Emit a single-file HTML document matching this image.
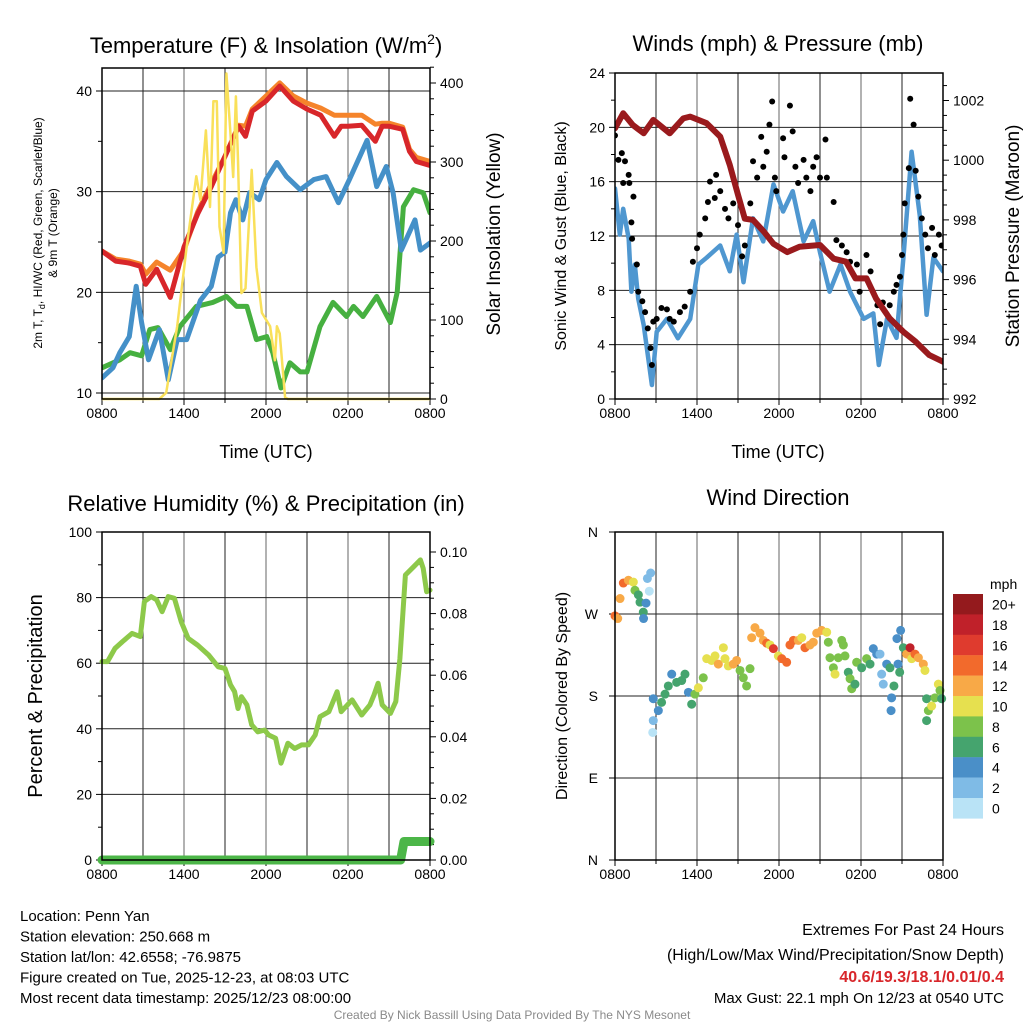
<!DOCTYPE html>
<html><head><meta charset="utf-8"><style>
html,body{margin:0;padding:0;background:#fff}
svg{display:block}
text{font-family:"Liberation Sans",sans-serif}
</style></head><body>
<svg id="s" width="1024" height="1024" viewBox="0 0 1024 1024" xmlns="http://www.w3.org/2000/svg"></svg>
<script>
// ---------- DATA ----------
const xTickLabels=["0800","1400","2000","0200","0800"];
// Panel 1
const tempTimes=[0,1,2,2.8,3.2,4,5,6,7,8,9,10,10.5,11,12,13,14,15,16,17,17.5,18,19,20,20.5,21,22,22.5,23,24];
const tempRed=[24.1,23.1,22.9,22.6,20.8,22.3,19.5,24.5,27.8,30.5,33.5,36.5,35.5,38.0,39.0,40.5,39.0,38.2,37.6,35.5,36.5,36.5,36.6,35.0,36.5,36.5,36.2,34.0,33.0,32.6];
const tempOrange=[24.1,23.3,23.1,22.8,21.8,23.0,22.2,24.2,28.0,30.8,33.5,36.6,36.5,38.2,39.5,40.8,39.5,38.8,38.3,37.6,37.6,37.6,37.6,36.7,36.8,36.8,36.4,34.2,33.4,33.0];
const dewTimes=[0,0.8,1.3,2,2.5,2.9,3.4,4.2,4.85,5.5,6.2,7.2,8,8.5,9,9.4,9.8,10.3,10.8,11.5,12,12.8,13.5,14.5,15.5,16.4,17.3,18.1,19.4,20.1,20.8,21.3,21.9,22.9,23.3,24];
const dewBlue=[11.5,12.5,14.0,15.6,20.6,17.0,13.3,16.3,11.3,15.3,15.3,19.2,20.6,23.5,24.0,27.9,29.2,27.2,29.9,29.2,31.2,32.9,31.5,30.2,31.2,31.5,28.9,31.2,35.1,30.5,32.5,29.9,24.2,27.2,24.2,24.9];
const wcTimes=[0,1.3,2.05,2.9,3.5,4.1,5,5.7,6.9,8.1,9.1,9.85,10.6,11.3,12.05,12.5,13.1,13.75,14.5,15,15.95,16.9,17.9,18.4,19.1,20.1,21.1,21.6,22.05,22.8,23.5,24];
const wcGreen=[12.5,13.3,14.0,13.7,16.3,16.5,14.3,16.6,18.6,19.0,19.6,18.6,18.6,15.3,15.6,14.0,10.5,13.0,12.1,12.1,16.6,19.0,17.6,18.6,17.6,19.6,17.0,20.0,28.5,30.2,29.9,27.9];
const solarTimes=[0,4.2,4.7,5.5,6.2,6.9,7.2,7.6,7.9,8.15,8.4,8.6,8.9,9.1,9.35,9.6,9.8,9.95,10.2,10.5,10.95,11.3,11.7,12.3,12.65,12.8,13.0,13.4,13.6,24];
const solarVals=[0,0,8,92,193,282,252,340,243,377,377,218,185,412,349,281,383,302,134,140,290,167,109,92,49,92,83,2,0,0];
const tempTicks=[10,20,30,40];
const solarTicks=[0,100,200,300,400];
// Panel 2
const windTimes=[0,0.35,0.6,1,1.2,1.45,1.7,2.1,2.7,3.05,3.8,4.6,5.5,6.1,6.7,7.7,8.4,8.9,9.4,10.1,10.85,11.6,12.3,13.0,13.8,14.5,15,15.7,16.5,17.2,18.2,18.9,19.3,19.9,20.6,21.1,21.7,22.3,22.8,23.3,24];
const windSonic=[15.5,12.1,14.0,11.8,7.9,9.9,7.4,5.45,1.03,4.95,5.9,4.47,5.9,9.9,10.4,11.3,9.4,12.1,8.6,13.3,11.6,15.8,13.8,15.3,11.6,13.1,10.8,7.9,9.9,7.9,5.9,6.3,2.5,5.9,4.5,10.4,18.2,13.5,6.2,10.4,9.4];
const gustTimes=[0,0.25,0.5,0.6,0.73,1,1.05,1.2,1.25,1.35,1.6,1.7,2,2.2,2.4,2.6,2.7,2.8,3.05,3.4,3.8,4.0,4.3,4.75,5.1,5.5,5.7,6.0,6.2,6.6,6.8,6.95,7.3,7.4,7.7,8.05,8.3,8.65,9.0,9.3,9.5,9.9,10.1,10.4,10.7,10.85,11.1,11.3,11.5,11.7,11.8,12.3,12.4,12.8,13,13.2,13.4,13.8,14.0,14.3,14.5,14.75,15,15.4,15.5,16,16.2,16.6,16.95,17.2,17.7,17.9,18.4,18.7,19.2,19.4,19.6,20.1,20.4,20.6,20.85,21,21.1,21.2,21.5,21.6,21.85,22,22.2,22.45,22.7,22.9,23.2,23.4,23.7,23.9];
const gustVals=[19.4,17.6,18.1,15.9,17.5,16.5,15.9,13.0,11.8,14.9,9.9,7.9,7.2,6.4,5.2,3.75,2.5,5.7,5.9,6.7,6.6,5.9,5.7,6.4,6.8,7.9,10.1,11.1,12.1,13.3,14.5,16.0,14.8,16.5,15.3,14.0,13.3,14.4,12.8,10.5,11.3,14.4,17.5,16.3,19.3,17.1,18.2,20.2,21.9,16.3,15.3,19.2,17.8,21.6,19.7,17.1,15.9,17.6,16.3,15.3,17.1,17.8,16.3,19.1,16.3,14.5,11.7,11.3,10.8,10.1,9.9,7.9,10.6,9.4,6.9,5.5,7.1,6.9,7.9,8.4,9.0,10.6,12.1,14.4,17.0,22.1,20.2,16.8,14.9,13.3,12.1,11.1,12.6,10.6,12.1,11.3];
const presTimes=[0,0.6,1.3,2.1,2.8,4.0,5.0,5.5,6.7,7.7,8.4,9.0,9.5,10.1,10.9,11.6,12.6,13.5,15,16,16.9,17.6,18.4,19.1,20.1,21.1,22.0,23,24];
const presVals=[1001.07,1001.57,1001.18,1000.9,1001.35,1000.9,1001.4,1001.46,1001.24,1000.79,999.84,998.84,998.04,998.0,997.6,997.2,996.92,997.1,997.16,996.7,996.6,996.04,996.04,995.37,994.7,994.25,993.92,993.47,993.25];
const windTicks=[0,4,8,12,16,20,24];
const presTicks=[992,994,996,998,1000,1002];
// Panel 3
const rhTimes=[0,0.4,0.95,1.5,2.2,2.8,3.1,3.6,4.0,4.4,4.85,5.3,5.8,6.3,7.0,7.8,8.5,9.0,9.4,9.7,9.95,10.2,10.6,10.95,11.4,11.9,12.2,12.7,13.1,13.6,14.1,14.6,15.1,15.6,15.95,16.6,17.2,17.5,18.3,19.0,19.6,19.9,20.2,20.5,21.1,21.5,21.8,22.2,22.8,23.3,23.5,23.75,24];
const rhVals=[60.5,60.5,64.5,66.6,69.1,68.1,78.8,80.3,79.3,75.7,80.3,79.8,72.6,67.6,65.5,62.5,58.9,58.4,53.4,51.3,46.2,49.8,47.3,41.2,39.1,39.6,38.1,37.1,29.5,35.6,34.0,35.1,35.1,38.1,43.7,45.2,51.3,45.2,48.8,44.2,47.3,50.3,53.9,47.3,44.7,48.3,61.4,86.9,89.4,91.5,88.9,81.8,82.3];
const precipTimes=[0,21.85,22.1,24];
const precipVals=[0,0,0.006,0.006];
const rhTicks=[0,20,40,60,80,100];
const precipTicks=["0.00","0.02","0.04","0.06","0.08","0.10"];
// Panel 4
const dirTimes=[0,0.2,0.37,0.61,0.98,1.34,1.46,1.71,1.83,2.07,2.09,2.27,2.37,2.61,2.51,2.80,2.80,2.76,3.17,3.41,3.66,3.90,4.15,4.51,4.88,5.12,5.37,5.61,5.85,6.10,6.46,6.71,7.07,7.32,7.56,7.93,8.05,8.29,8.66,8.90,9.15,9.39,9.63,9.88,10.0,10.24,10.61,10.85,11.10,11.34,11.59,11.95,12.20,12.56,12.80,13.05,13.41,13.66,13.90,14.27,14.51,14.76,15.12,15.49,15.61,15.73,15.98,16.10,16.34,16.59,16.71,16.83,17.07,17.20,17.32,17.56,17.68,18.05,18.41,18.66,18.90,19.15,19.39,19.51,19.63,19.88,20.12,20.24,20.20,20.41,20.71,20.83,20.63,20.90,21.10,21.34,21.59,21.71,21.95,22.20,22.56,22.68,22.80,22.93,22.80,23.17,23.41,23.66,23.78,23.90];
const dirDeg=[268,265,287,304,307,305,296,291,283,272,265,282,309,315,295,177,153,140,164,173,182,191,204,195,197,204,184,171,182,189,200,221,219,224,215,233,221,213,215,219,208,200,191,210,244,255,249,241,238,236,232,224,221,217,236,241,241,244,233,236,239,249,252,250,239,222,211,204,222,241,236,224,206,199,188,193,217,211,221,215,232,226,226,204,193,215,211,178,164,191,215,206,243,252,233,226,233,221,226,222,215,208,177,164,153,169,178,193,186,177];
const dirSpeed=[14,12,12,14,12,9,8,6,6,6,4,4,2,2,0,4,2,0,4,6,6,6,4,6,6,6,4,6,8,10,8,10,10,10,12,10,10,10,12,12,8,8,8,8,12,12,12,12,14,10,16,10,14,14,14,14,12,10,14,12,12,12,12,10,8,8,8,10,8,8,8,8,6,8,8,6,8,6,8,6,4,4,2,2,2,4,6,4,4,6,4,6,4,4,6,12,18,10,14,12,12,10,6,8,6,10,8,10,8,6];
const cbLabels=["20+","18","16","14","12","10","8","6","4","2","0"];
const dirLabels=["N","W","S","E","N"];
const speedColors=["#b9e3f6","#7fbbe6","#4a8fc8","#45a46e","#7cc24b","#e6e04f","#f8a947","#f26a2c","#df3b2e","#c0212a","#941a1d"];

// ---------- HELPERS ----------
const NS="http://www.w3.org/2000/svg";
const svg=document.getElementById('s');
function el(tag,attrs,parent){const e=document.createElementNS(NS,tag);for(const k in attrs)e.setAttribute(k,attrs[k]);(parent||svg).appendChild(e);return e;}
function txt(str,x,y,size,anchor,parent,extra){const t=el('text',Object.assign({x:x,y:y,'font-size':size,'text-anchor':anchor||'middle',fill:'#000'},extra||{}),parent);t.textContent=str;return t;}
function linScale(d0,d1,r0,r1){return v=>r0+(v-d0)*(r1-r0)/(d1-d0);}
function pathD(xs,ys,fx,fy){return xs.map((t,i)=>(i?'L':'M')+fx(t).toFixed(1)+','+fy(ys[i]).toFixed(1)).join('');}

function panelFrame(g,L,T,R,B,vgrid,hgrid){
  el('rect',{x:L,y:T,width:R-L,height:B-T,fill:'#fff'},g);
  vgrid.forEach((x,i)=>el('line',{x1:x,y1:T,x2:x,y2:B,stroke:(i%2==1?'#666':'#222'),'stroke-width':1},g));
  hgrid.forEach(y=>el('line',{x1:L,y1:y,x2:R,y2:y,stroke:'#222','stroke-width':1},g));
}
function border(g,L,T,R,B){el('rect',{x:L,y:T,width:R-L,height:B-T,fill:'none',stroke:'#000','stroke-width':1.5},g);}
function xAxis(g,L,B){const fx=linScale(0,24,L,L+328);
  for(let h=0;h<=24;h+=3){el('line',{x1:fx(h),y1:B,x2:fx(h),y2:B+(h%6==0?6:4),stroke:'#000'},g);}
  xTickLabels.forEach((s,i)=>{const t=txt(s,fx(i*6),B+19,14,'middle',g);});
}

// ---------- PANEL 1 ----------
(function(){
  const L=102,R=430,T=68,B=399;
  const g=el('g',{});
  const fx=linScale(0,24,L,R);
  const fy=linScale(10,40,393,91);
  const fs=linScale(0,400,399,83);
  const vg=[];for(let h=3;h<24;h+=3)vg.push(fx(h));
  panelFrame(g,L,T,R,B,vg,tempTicks.map(fy));
  xAxis(g,L,B);
  for(let v=10;v<=42;v+=5){el('line',{x1:L,y1:fy(v),x2:L-(v%10==0?6:4),y2:fy(v),stroke:'#000'},g);}
  tempTicks.forEach(v=>{const t=txt(String(v),L-10,fy(v)+5,14,'end',g);});
  for(let v=0;v<=420;v+=20){el('line',{x1:R,y1:fs(v),x2:R+(v%100==0?6:4),y2:fs(v),stroke:'#000'},g);}
  solarTicks.forEach(v=>{const t=txt(String(v),R+10,fs(v)+5,14,'start',g);});
  const clip=el('clipPath',{id:'c1'},g);el('rect',{x:L,y:T,width:R-L,height:B-T+3},clip);
  const sg=el('g',{'clip-path':'url(#c1)'},g);
  let p;
  p=el('path',{d:pathD(wcTimes,wcGreen,fx,fy),fill:'none',stroke:'#46b040','stroke-width':5,'stroke-linejoin':'round','stroke-linecap':'round'},sg);
  
  p=el('path',{d:pathD(dewTimes,dewBlue,fx,fy),fill:'none',stroke:'#4490c8','stroke-width':5,'stroke-linejoin':'round','stroke-linecap':'round'},sg);
  
  p=el('path',{d:pathD(tempTimes,tempOrange,fx,fy),fill:'none',stroke:'#f5842b','stroke-width':5,'stroke-linejoin':'round','stroke-linecap':'round'},sg);
  
  p=el('path',{d:pathD(tempTimes,tempRed,fx,fy),fill:'none',stroke:'#d8262a','stroke-width':5,'stroke-linejoin':'round','stroke-linecap':'round'},sg);
  
  p=el('path',{d:pathD(solarTimes,solarVals,fx,fs),fill:'none',stroke:'#f9e05a','stroke-width':2.5,'stroke-linejoin':'round'},sg);
  
  border(g,L,T,R,B);
  const t1=el('text',{x:266,y:53,'font-size':22,'text-anchor':'middle',fill:'#000'},g);
  
  t1.innerHTML='Temperature (F) &amp; Insolation (W/m<tspan dy="-9" font-size="14">2</tspan><tspan dy="9">)</tspan>';
  const yl=el('text',{transform:'translate(42,233) rotate(-90)','font-size':12,'text-anchor':'middle',fill:'#000'},g);
  
  yl.innerHTML='2m T, T<tspan dy="3" font-size="9">d</tspan><tspan dy="-3">, HI/WC (Red, Green, Scarlet/Blue)</tspan>';
  const yl2=txt('& 9m T (Orange)',0,0,12,'middle',g,{transform:'translate(57,233) rotate(-90)'});
  
  const yr=txt('Solar Insolation (Yellow)',0,0,19,'middle',g,{transform:'translate(500,234) rotate(-90)'});
  
  const xt=txt('Time (UTC)',266,458,18,'middle',g);
})();

// ---------- PANEL 2 ----------
(function(){
  const L=615,R=943,T=73,B=399;
  const g=el('g',{});
  const fx=linScale(0,24,L,R);
  const fy=linScale(0,24,399,73);
  const fp=linScale(992,1002,399,100.5);
  const vg=[];for(let h=3;h<24;h+=3)vg.push(fx(h));
  panelFrame(g,L,T,R,B,vg,windTicks.slice(1,-1).map(fy));
  xAxis(g,L,B);
  for(let v=0;v<=24;v+=2){el('line',{x1:L,y1:fy(v),x2:L-(v%4==0?6:4),y2:fy(v),stroke:'#000'},g);}
  windTicks.forEach(v=>{const t=txt(String(v),L-10,fy(v)+5,14,'end',g);});
  for(let v=992;v<=1002.9;v+=0.5){el('line',{x1:R,y1:fp(v),x2:R+(Math.abs(v%2)<0.01?6:4),y2:fp(v),stroke:'#000'},g);}
  presTicks.forEach(v=>{const t=txt(String(v),R+10,fp(v)+5,14,'start',g);});
  const clip=el('clipPath',{id:'c2'},g);el('rect',{x:L,y:T,width:R-L,height:B-T},clip);
  const sg=el('g',{'clip-path':'url(#c2)'},g);
  let p=el('path',{d:pathD(windTimes,windSonic,fx,fy),fill:'none',stroke:'#4f97d0','stroke-width':4.5,'stroke-linejoin':'round','stroke-linecap':'round'},sg);
  
  gustTimes.forEach((t,i)=>{const c=el('circle',{cx:fx(t),cy:fy(gustVals[i]),r:3,fill:'#000'},sg);
    });
  p=el('path',{d:pathD(presTimes,presVals,fx,fp),fill:'none',stroke:'#9a1a1d','stroke-width':6,'stroke-linejoin':'round','stroke-linecap':'round'},sg);
  
  border(g,L,T,R,B);
  const t=txt('Winds (mph) & Pressure (mb)',778,51,22,'middle',g);
  const yl=txt('Sonic Wind & Gust (Blue, Black)',0,0,16,'middle',g,{transform:'translate(566,236) rotate(-90)'});
  const yr=txt('Station Pressure (Maroon)',0,0,19,'middle',g,{transform:'translate(1019,236) rotate(-90)'});
  const xt=txt('Time (UTC)',778,458,18,'middle',g);
})();

// ---------- PANEL 3 ----------
(function(){
  const L=102,R=430,T=532,B=860;
  const g=el('g',{});
  const fx=linScale(0,24,L,R);
  const fy=linScale(0,100,860,532);
  const fr=linScale(0,0.10,860,552);
  const vg=[];for(let h=3;h<24;h+=3)vg.push(fx(h));
  panelFrame(g,L,T,R,B,vg,[20,40,60,80].map(fy));
  xAxis(g,L,B);
  for(let v=0;v<=100;v+=10){el('line',{x1:L,y1:fy(v),x2:L-(v%20==0?6:4),y2:fy(v),stroke:'#000'},g);}
  rhTicks.forEach(v=>{const t=txt(String(v),L-10,fy(v)+5,14,'end',g);});
  for(let v=0;v<=0.105;v+=0.005){el('line',{x1:R,y1:fr(v),x2:R+(Math.round(v*1000)%20==0?6:4),y2:fr(v),stroke:'#000'},g);}
  precipTicks.forEach(s=>{const t=txt(s,R+10,fr(parseFloat(s))+5,14,'start',g);});
  const clip=el('clipPath',{id:'c3'},g);el('rect',{x:L-8,y:T,width:R-L+16,height:B-T+8},clip);
  const sg=el('g',{'clip-path':'url(#c3)'},g);
  let p=el('path',{d:pathD(rhTimes,rhVals,fx,fy),fill:'none',stroke:'#8dc94a','stroke-width':5,'stroke-linejoin':'round','stroke-linecap':'round'},sg);
  
  p=el('path',{d:pathD(precipTimes,precipVals,fx,fr),fill:'none',stroke:'#4cb648','stroke-width':9,'stroke-linejoin':'round','stroke-linecap':'round'},sg);
  
  border(g,L,T,R,B);
  const t=txt('Relative Humidity (%) & Precipitation (in)',266,511,22,'middle',g);
  const yl=txt('Percent & Precipitation',0,0,20,'middle',g,{transform:'translate(42,696) rotate(-90)'});
})();

// ---------- PANEL 4 ----------
(function(){
  const L=615,R=943,T=532,B=860;
  const g=el('g',{});
  const fx=linScale(0,24,L,R);
  const fy=linScale(360,0,532,860);
  const vg=[];for(let h=3;h<24;h+=3)vg.push(fx(h));
  panelFrame(g,L,T,R,B,vg,[270,180,90].map(fy));
  xAxis(g,L,B);
  dirLabels.forEach((s,i)=>{const v=360-i*90;el('line',{x1:L,y1:fy(v),x2:L-6,y2:fy(v),stroke:'#000'},g);
    const t=txt(s,L-17,fy(v)+5,14,'end',g);});
  const sg=el('g',{},g);
  dirTimes.forEach((t,i)=>{const k=Math.min(10,Math.round(dirSpeed[i]/2));
    const c=el('circle',{cx:fx(t),cy:fy(dirDeg[i]),r:4.5,fill:speedColors[k]},sg);
    });
  border(g,L,T,R,B);
  const t=txt('Wind Direction',778,505,22,'middle',g);
  const yl=txt('Direction (Colored By Speed)',0,0,16,'middle',g,{transform:'translate(567,696) rotate(-90)'});
  const cb=el('g',{},g);
  const u=txt('mph',990,589,14,'start',cb);
  cbLabels.forEach((s,i)=>{const y=594+i*20.4;
    const r=el('rect',{x:953,y:y,width:30,height:20.6,fill:speedColors[10-i]},cb);
    
    const l=txt(s,992,y+15.5,14,'start',cb);});
})();

// ---------- FOOTER ----------
(function(){
  const g=el('g',{});
  const lines=["Location: Penn Yan","Station elevation: 250.668 m","Station lat/lon: 42.6558; -76.9875","Figure created on Tue, 2025-12-23, at 08:03 UTC","Most recent data timestamp: 2025/12/23 08:00:00"];
  lines.forEach((s,i)=>{const t=txt(s,20,921+i*20.5,15,'start',g);});
  let t=txt('Extremes For Past 24 Hours',1004,935,16,'end',g);
  t=txt('(High/Low/Max Wind/Precipitation/Snow Depth)',1004,960,16,'end',g);
  t=txt('40.6/19.3/18.1/0.01/0.4',1004,982,16,'end',g,{fill:'#d8262a','font-weight':'bold'});
  t=txt('Max Gust: 22.1 mph On 12/23 at 0540 UTC',1004,1003,15,'end',g);
  t=txt('Created By Nick Bassill Using Data Provided By The NYS Mesonet',512,1019,12,'middle',g,{fill:'#8a8a8a'});
})();
</script>
</body></html>
